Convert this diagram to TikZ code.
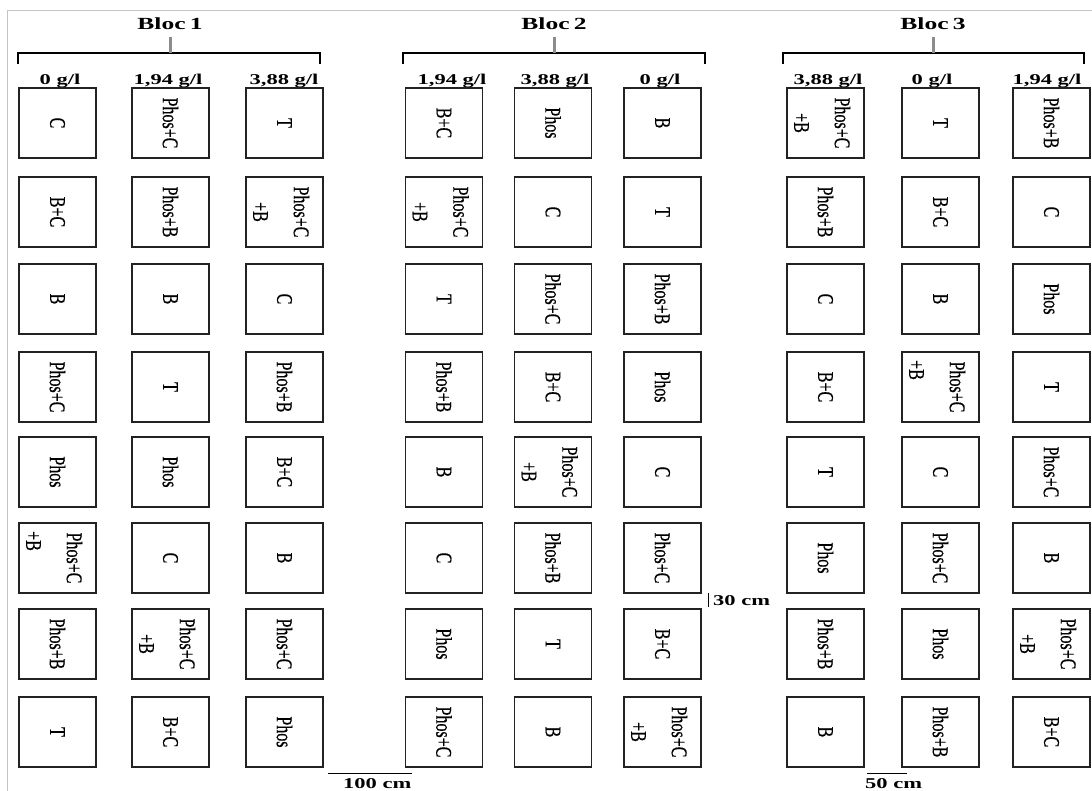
\documentclass[tikz,border=0pt]{standalone}
\usepackage{fontspec}
\setmainfont{Liberation Serif}
\newfontfamily\plotfont[FakeBold=0.6]{Liberation Serif}
\usepackage{graphicx}
\definecolor{boxline}{HTML}{222222}
\definecolor{stemgray}{HTML}{8C8C8C}
\definecolor{framegray}{HTML}{C4C4C4}

\tikzset{
  plotbox/.style={draw=boxline, line width=1.7pt, minimum width=77pt, minimum height=70pt, inner sep=0pt, outer sep=0pt},
  plotlab/.style={rotate=-90, inner sep=0pt, font=\plotfont\fontsize{16}{16}\selectfont},
  hlabel/.style={inner sep=0pt, font=\bfseries\fontsize{15}{15}\selectfont},
  bloclabel/.style={inner sep=0pt, anchor=base, font=\bfseries\fontsize{17}{17}\selectfont},
  bracket/.style={draw=black, line width=1.4pt},
  stem/.style={draw=stemgray, line width=3pt},
  scalebar/.style={draw=black, line width=1pt},
  framestyle/.style={draw=framegray, line width=1pt}
}

\newcommand\stretchtext[1]{\scalebox{1.5}[1]{#1}}
\newcommand\plottext[1]{\scalebox{1}[1.4]{#1}}

\newcommand\lblC[1]{\node[plotlab] (#1-t) at (#1.center) {\plottext{C}};}
\newcommand\lblT[1]{\node[plotlab] (#1-t) at (#1.center) {\plottext{T}};}
\newcommand\lblB[1]{\node[plotlab] (#1-t) at (#1.center) {\plottext{B}};}
\newcommand\lblBC[1]{\node[plotlab] (#1-t) at (#1.center) {\plottext{B+C}};}
\newcommand\lblP[1]{\node[plotlab] (#1-t) at (#1.center) {\plottext{Phos}};}
\newcommand\lblPB[1]{\node[plotlab] (#1-t) at (#1.center) {\plottext{Phos+B}};}
\newcommand\lblPC[1]{\node[plotlab] (#1-t) at (#1.center) {\plottext{Phos+C}};}
\newcommand\lblPCB[1]{\node[plotlab] (#1-t) at ([xshift=17pt]#1.center) {\plottext{Phos+C}};
  \node[plotlab] (#1-u) at ([xshift=-24pt]#1.center) {\plottext{+B}};}
\newcommand\lblPCBt[1]{\node[plotlab] (#1-t) at ([xshift=17pt]#1.center) {\plottext{Phos+C}};
  \node[plotlab, anchor=west] (#1-u) at ([xshift=-24pt, yshift=27pt]#1.center) {\plottext{+B}};}

\begin{document}
\begin{tikzpicture}[x=1pt, y=-1pt]
\useasboundingbox (0,0) rectangle (1092,791);

% frame
\coordinate (frTL) at (7,11);
\coordinate (frTR) at (1092,11);
\coordinate (frBL) at (7,791);
\draw[framestyle] (frTR) -- (frTL) -- (frBL);

% Bloc headers and brackets
\foreach \bl/\xl/\xm/\xr in {1/18/170/320, 2/403/554/705, 3/783/933/1084}{
  \node[bloclabel] (bloc\bl) at (\xm,30) {\stretchtext{Bloc\,\bl}};
  \coordinate (st\bl top) at (\xm,37);
  \coordinate (st\bl bot) at (\xm,53);
  \coordinate (br\bl l) at (\xl,53);
  \coordinate (br\bl ld) at (\xl,64);
  \coordinate (br\bl r) at (\xr,53);
  \coordinate (br\bl rd) at (\xr,64);
  \draw[bracket] (br\bl ld) -- (br\bl l) -- (br\bl r) -- (br\bl rd);
  \draw[stem] (st\bl top) -- (st\bl bot);
}

% concentration labels
\foreach \nm/\x/\t in {c11/60/{0 g/l}, c12/168/{1,94 g/l}, c13/284/{3,88 g/l},
                       c21/452/{1,94 g/l}, c22/555/{3,88 g/l}, c23/660/{0 g/l},
                       c31/828/{3,88 g/l}, c32/932/{0 g/l}, c33/1047/{1,94 g/l}}{
  \node[hlabel, anchor=base] (\nm) at (\x,85) {\stretchtext{\t}};
}

% Bloc 1
\foreach \r/\y/\ca/\cb/\cc in {1/123/C/PC/T, 2/212/BC/PB/PCB, 3/299/B/B/C, 4/387/PC/T/PB,
    5/472/P/P/BC, 6/558/PCBt/C/B, 7/644/PB/PCB/PC, 8/732/T/BC/P}{
  \node[plotbox] (b1r\r-c1) at (57.5,\y) {};
  \node[plotbox] (b1r\r-c2) at (170.5,\y) {};
  \node[plotbox] (b1r\r-c3) at (284.5,\y) {};
  \csname lbl\ca\endcsname{b1r\r-c1}
  \csname lbl\cb\endcsname{b1r\r-c2}
  \csname lbl\cc\endcsname{b1r\r-c3}
}

% Bloc 2
\foreach \r/\y/\ca/\cb/\cc in {1/123/BC/P/B, 2/212/PCB/C/T, 3/299/T/PC/PB, 4/387/PB/BC/P,
    5/472/B/PCB/C, 6/558/C/PB/PC, 7/644/P/T/BC, 8/732/PC/B/PCB}{
  \node[plotbox] (b2r\r-c1) at (444,\y) {};
  \node[plotbox] (b2r\r-c2) at (553,\y) {};
  \node[plotbox] (b2r\r-c3) at (662.5,\y) {};
  \csname lbl\ca\endcsname{b2r\r-c1}
  \csname lbl\cb\endcsname{b2r\r-c2}
  \csname lbl\cc\endcsname{b2r\r-c3}
}

% Bloc 3
\foreach \r/\y/\ca/\cb/\cc in {1/123/PCB/T/PB, 2/212/PB/BC/C, 3/299/C/B/P, 4/387/BC/PCBt/T,
    5/472/T/C/PC, 6/558/P/PC/B, 7/644/PB/P/PCB, 8/732/B/PB/BC}{
  \node[plotbox] (b3r\r-c1) at (825.5,\y) {};
  \node[plotbox] (b3r\r-c2) at (940.5,\y) {};
  \node[plotbox] (b3r\r-c3) at (1051.5,\y) {};
  \csname lbl\ca\endcsname{b3r\r-c1}
  \csname lbl\cb\endcsname{b3r\r-c2}
  \csname lbl\cc\endcsname{b3r\r-c3}
}

% scale: 30 cm
\coordinate (s30a) at (708,593);
\coordinate (s30b) at (708,607);
\draw[scalebar] (s30a) -- (s30b);
\node[hlabel, anchor=base west] (t30) at (713,605) {\stretchtext{30 cm}};

% scale: 100 cm
\coordinate (s100a) at (328,773);
\coordinate (s100b) at (412,773);
\draw[scalebar] (s100a) -- (s100b);
\node[hlabel, anchor=base west] (t100) at (343,788) {\stretchtext{100 cm}};

% scale: 50 cm
\coordinate (s50a) at (867,773);
\coordinate (s50b) at (907,773);
\draw[scalebar] (s50a) -- (s50b);
\node[hlabel, anchor=base west] (t50) at (865,788) {\stretchtext{50 cm}};
\end{tikzpicture}
\end{document}
